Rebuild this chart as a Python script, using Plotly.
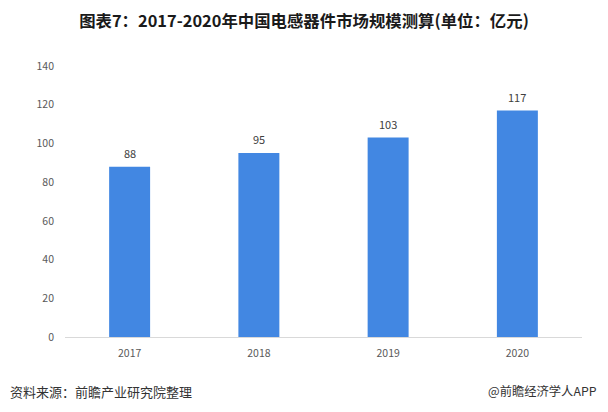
import plotly.graph_objects as go

years = ["2017", "2018", "2019", "2020"]
values = [88, 95, 103, 117]
y_ticks = [0, 20, 40, 60, 80, 100, 120, 140]

title = "图表7：2017-2020年中国电感器件市场规模测算(单位：亿元)"
source = "资料来源：前瞻产业研究院整理"
brand = "@前瞻经济学人APP"

FONT = "Noto Sans CJK SC"
# page body has an 8px margin on every side: design in screen coords, shift by OFF
OFF = 8
W, H = 608 - 2 * OFF, 412 - 2 * OFF
L, R, T, B = 65 - OFF, W - (582 - OFF), 66 - OFF, H - (337 - OFF)
PW, PH = W - L - R, H - T - B

fig = go.Figure(go.Bar(
    x=years, y=values,
    marker=dict(color="#4287E2", line=dict(width=0)),
))

# value labels: category axis coordinate = category index
annotations = [
    dict(x=i, y=v, xref="x", yref="y", text=str(v), showarrow=False,
         yanchor="middle", yshift=14,
         font=dict(size=11, color="#404040", family=FONT))
    for i, v in enumerate(values)
]
foot_y = -((391 - OFF) - (H - B)) / PH
annotations += [
    dict(text=source, xref="paper", yref="paper", x=(0 - L) / PW,
         y=foot_y, xanchor="left", yanchor="middle",
         showarrow=False, font=dict(size=13, color="#333333", family=FONT)),
    dict(text=brand, xref="paper", yref="paper", x=(W - 1 - L) / PW,
         y=foot_y, xanchor="right", yanchor="middle",
         showarrow=False, font=dict(size=12.3, color="#333333", family=FONT)),
]

fig.update_layout(
    width=W, height=H,
    margin=dict(l=L, r=R, t=T, b=B),
    paper_bgcolor="white", plot_bgcolor="white",
    bargap=0.683,
    showlegend=False,
    font=dict(family=FONT),
    title=dict(text="<b>" + title + "</b>", x=(304 - OFF) / W, xanchor="center",
               y=1 - (21 - OFF) / H, yanchor="middle",
               font=dict(size=16.4, color="#1A1A1A", family=FONT)),
    xaxis=dict(type="category", showgrid=False, showline=True,
               linecolor="#D9D9D9", linewidth=1, ticks="",
               ticklabelstandoff=6,
               tickfont=dict(size=10.5, color="#595959", family=FONT)),
    yaxis=dict(range=[0, 140], tickvals=y_ticks, showgrid=False,
               zeroline=False, showline=False, ticks="",
               ticklabelstandoff=10,
               tickfont=dict(size=10.5, color="#595959", family=FONT)),
    annotations=annotations,
)

fig.write_html("out.html", config={"displayModeBar": False})
